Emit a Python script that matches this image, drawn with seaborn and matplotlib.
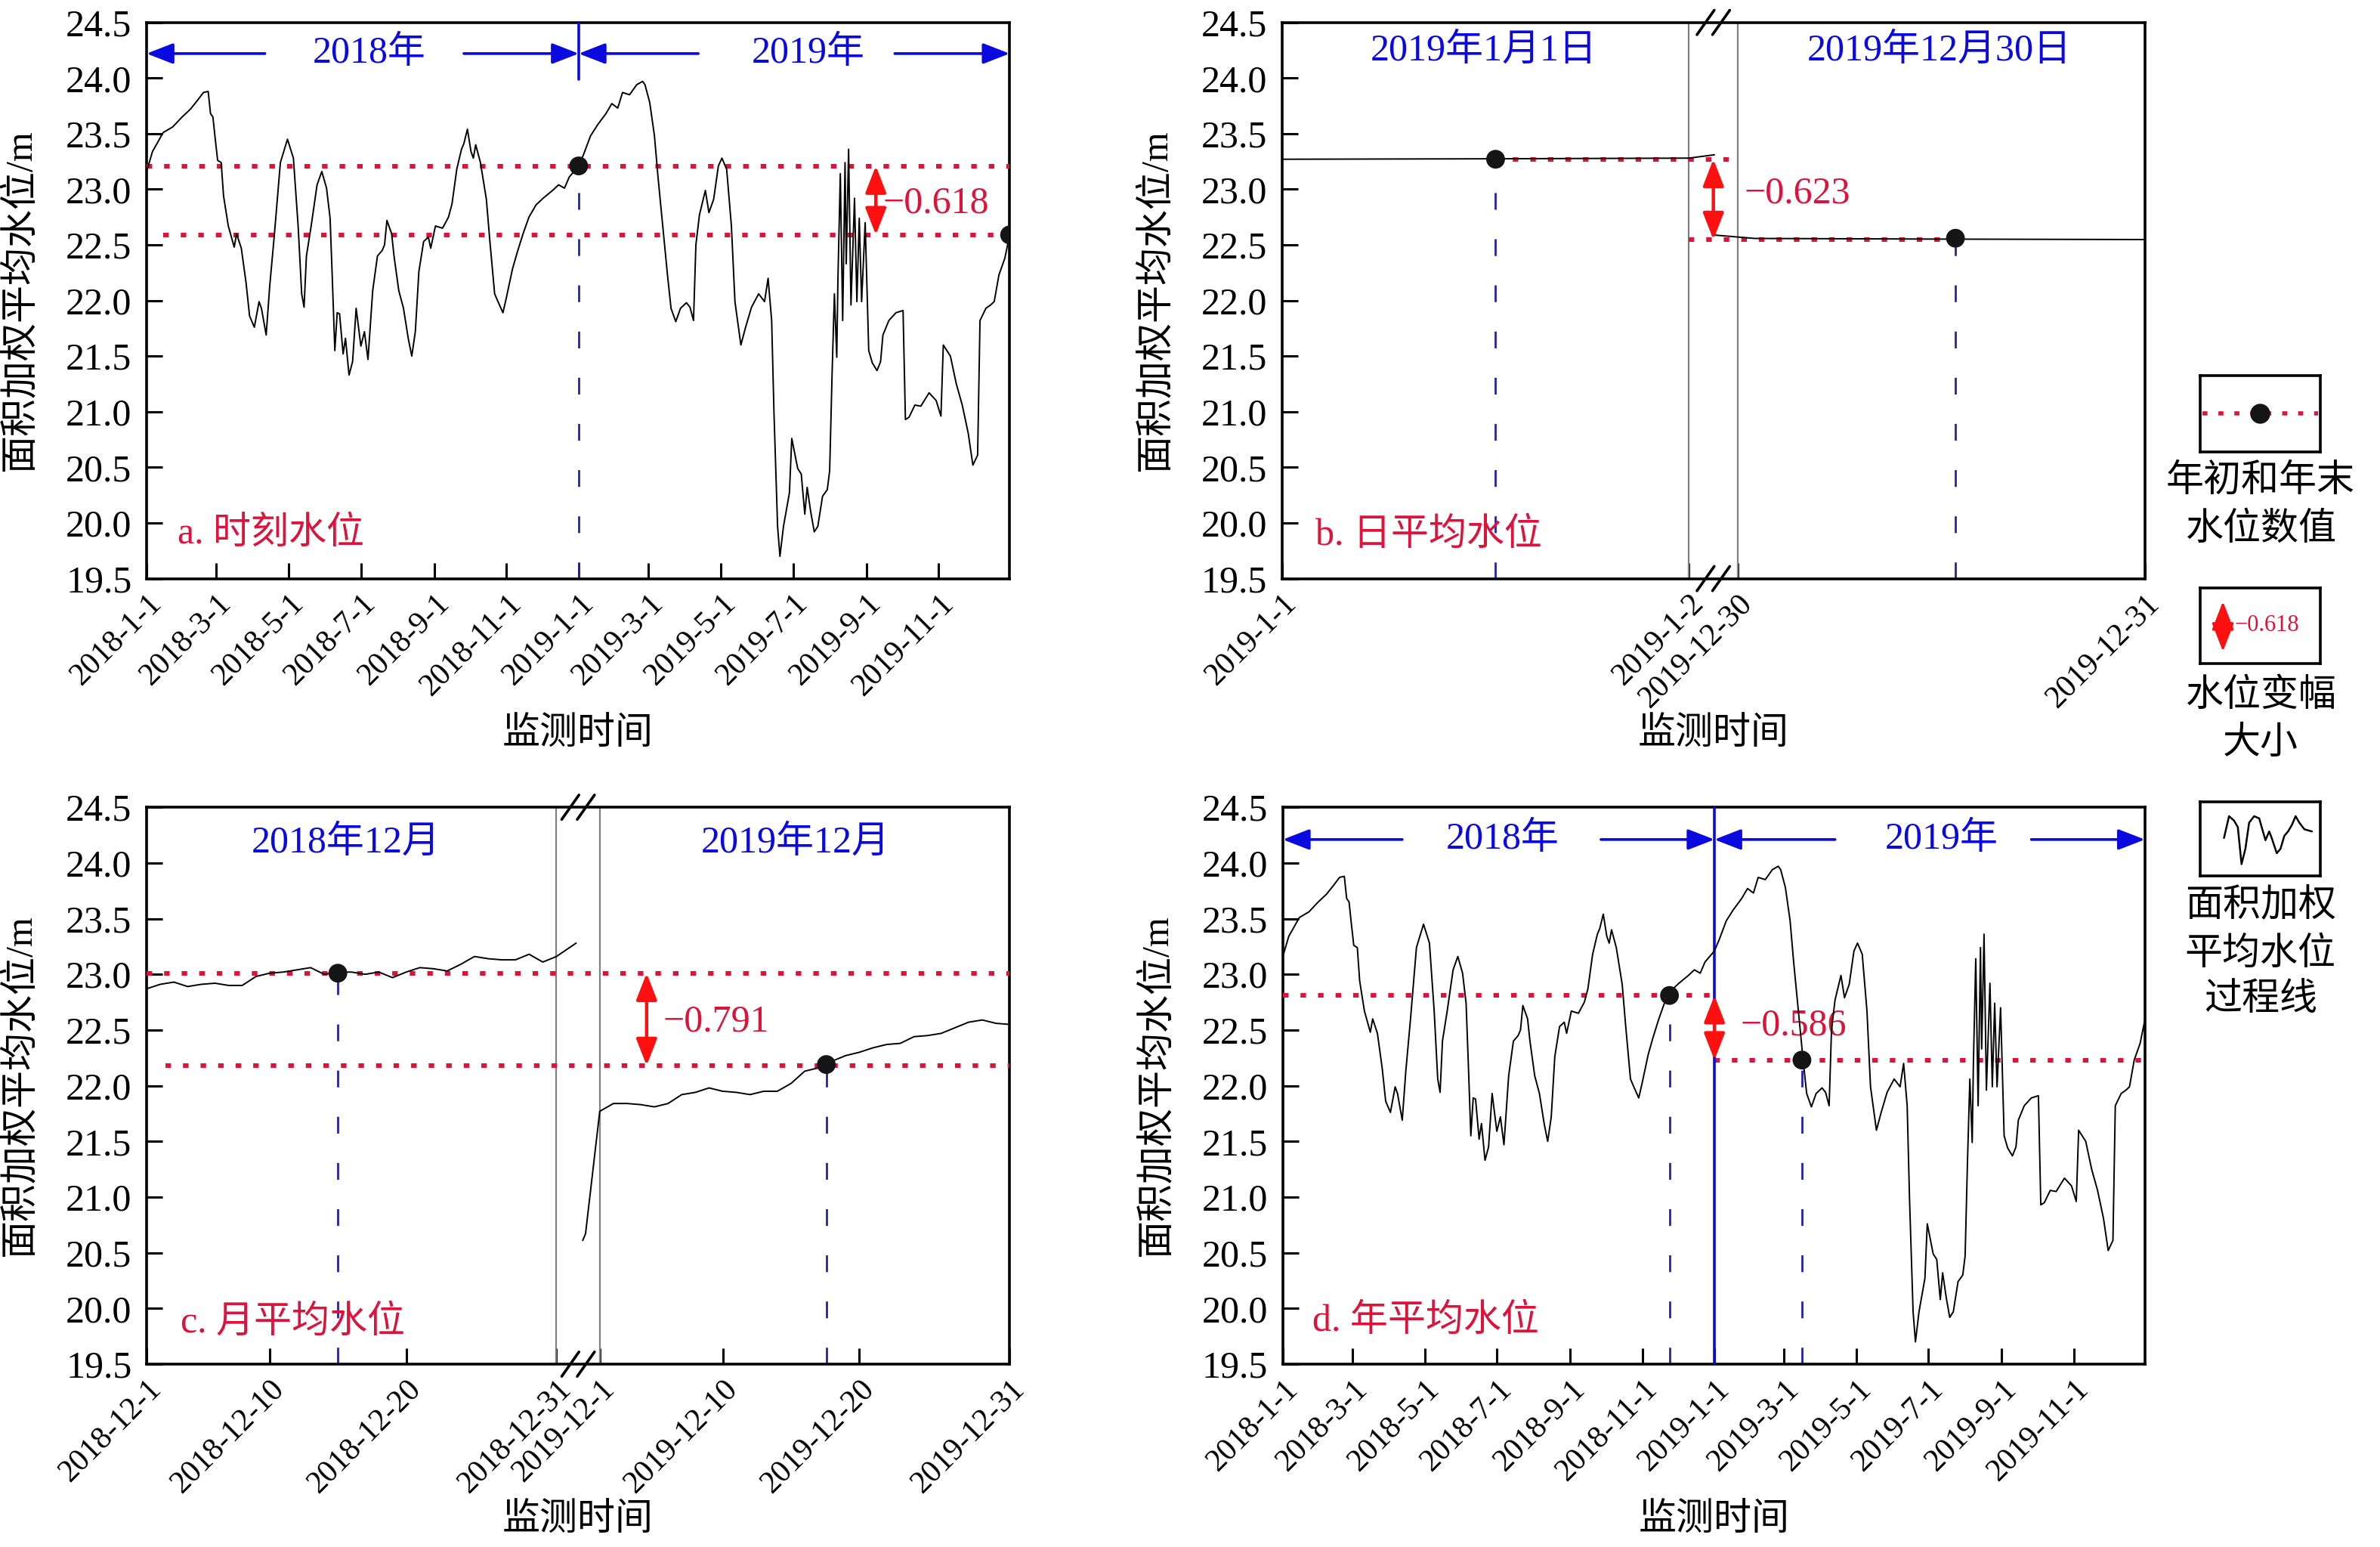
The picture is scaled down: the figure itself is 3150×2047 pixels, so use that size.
import numpy as np
import pandas as pd
import seaborn as sns
import matplotlib.pyplot as plt

sns.set_theme(style='ticks')
plt.rcParams['font.family'] = ['Liberation Serif', 'Noto Sans CJK SC']
plt.rcParams['axes.unicode_minus'] = True

RED = '#DC143C'
ARROW_RED = '#FF1010'
BLUE = '#0A0AE0'
DASH_BLUE = '#2424A8'
GRAY = '#808080'

base = pd.Timestamp('2018-01-01')

# area weighted mean water level, x = days since 2018-1-1
days_2018 = [0, 5, 14, 22, 30, 37, 43, 48, 52, 54,
             56, 58, 60, 63, 65, 69, 74, 76, 80, 84,
             87, 91, 95, 97, 101, 104, 108, 113, 119, 124,
             128, 131, 133, 135, 139, 144, 148, 152, 155, 157,
             159, 161, 163, 166, 168, 171, 174, 177, 181, 184,
             187, 191, 195, 199, 201, 203, 207, 209, 213, 217,
             221, 224, 227, 230, 234, 238, 240, 244, 250, 255,
             258, 262, 266, 268, 271, 274, 276, 278, 282, 287,
             290, 294, 296, 301, 304, 309, 313, 318, 323, 329,
             335, 343, 348, 353, 357, 365]
level_2018 = [23.16, 23.34, 23.51, 23.56, 23.65, 23.72, 23.80, 23.87, 23.88, 23.68,
              23.65, 23.45, 23.26, 23.24, 22.94, 22.67, 22.48, 22.60, 22.47, 22.16,
              21.86, 21.76, 21.99, 21.93, 21.69, 22.13, 22.60, 23.24, 23.45, 23.28,
              22.67, 22.06, 21.94, 22.40, 22.67, 23.04, 23.16, 23.01, 22.74, 22.16,
              21.55, 21.89, 21.88, 21.52, 21.66, 21.33, 21.45, 21.93, 21.59, 21.72,
              21.47, 22.09, 22.40, 22.45, 22.50, 22.72, 22.60, 22.40, 22.09, 21.93,
              21.66, 21.50, 21.72, 22.26, 22.53, 22.57, 22.47, 22.67, 22.65, 22.75,
              22.87, 23.18, 23.36, 23.41, 23.54, 23.34, 23.28, 23.40, 23.24, 22.91,
              22.53, 22.06, 22.01, 21.89, 22.03, 22.28, 22.43, 22.60, 22.75, 22.86,
              22.92, 22.99, 23.04, 23.01, 23.11, 23.21]
days_2019 = [369, 375, 381, 388, 393, 398, 402, 408, 414, 419,
             421, 425, 429, 432, 436, 440, 443, 447, 451, 456,
             459, 462, 464, 467, 472, 475, 479, 483, 486, 490,
             494, 497, 502, 506, 511, 517, 522, 525, 528, 530,
             533, 535, 538, 543, 545, 550, 553, 556, 558, 561,
             564, 567, 571, 575, 577, 579, 581, 583, 584, 586,
             588, 590, 591, 593, 595, 598, 600, 602, 604, 607,
             610, 613, 617, 620, 622, 627, 633, 639, 641, 644,
             649, 654, 661, 667, 671, 673, 679, 684, 689, 694,
             698, 702, 704, 709, 713, 716, 720, 725, 729]
level_2019 = [23.31, 23.48, 23.58, 23.68, 23.77, 23.73, 23.87, 23.85, 23.94, 23.97,
              23.94, 23.78, 23.48, 23.11, 22.67, 22.23, 21.93, 21.81, 21.93, 21.98,
              21.94, 21.82, 22.50, 22.77, 22.99, 22.79, 22.91, 23.21, 23.28, 23.18,
              22.67, 21.99, 21.60, 21.76, 21.94, 22.06, 21.99, 22.20, 21.82, 20.98,
              19.97, 19.70, 19.97, 20.27, 20.76, 20.49, 20.44, 20.08, 20.32, 20.10,
              19.92, 19.97, 20.24, 20.30, 20.47, 21.32, 22.06, 21.49, 22.20, 23.14,
              21.82, 23.24, 22.33, 23.36, 21.96, 22.92, 21.99, 22.74, 21.99, 22.70,
              21.55, 21.44, 21.37, 21.45, 21.69, 21.82, 21.89, 21.91, 20.93, 20.95,
              21.06, 21.05, 21.17, 21.10, 20.96, 21.60, 21.50, 21.25, 21.06, 20.81,
              20.52, 20.61, 21.82, 21.93, 21.96, 21.99, 22.23, 22.38, 22.59]

# panel b: daily mean, 2019-1-1 and 2019-12-30
b_early_time = ['2019-01-01 00:00', '2019-01-01 06:00', '2019-01-01 12:00',
                '2019-01-01 18:00', '2019-01-02 00:00', '2019-01-02 01:30']
b_early_level = [23.270, 23.272, 23.274, 23.277, 23.280, 23.310]
b_late_time = ['2019-12-29 22:30', '2019-12-30 01:00', '2019-12-30 12:00', '2019-12-31 00:00']
b_late_level = [22.590, 22.558, 22.552, 22.548]

# panel c: monthly mean, 2018-12 and 2019-12 (daily values)
c_early_time = list(pd.date_range('2018-12-01', periods=31, freq='D')) + [pd.Timestamp('2019-01-01 10:30')]
c_early_level = [22.87, 22.91, 22.93, 22.89, 22.91, 22.92, 22.90, 22.90, 22.98, 23.01,
                 23.02, 23.04, 23.06, 23.00, 23.02, 23.02, 23.00, 23.02, 22.97, 23.02,
                 23.06, 23.05, 23.03, 23.09, 23.16, 23.14, 23.13, 23.13, 23.18, 23.11,
                 23.16, 23.28]
c_late_time = [pd.Timestamp('2019-11-29 18:00'), pd.Timestamp('2019-11-29 23:00')] + \
    list(pd.date_range('2019-12-01', periods=31, freq='D'))
c_late_level = [20.61, 20.67,
                21.77, 21.84, 21.84, 21.83, 21.81, 21.84, 21.92, 21.94, 21.98, 21.95,
                21.94, 21.92, 21.95, 21.95, 22.02, 22.13, 22.16, 22.22, 22.27, 22.30,
                22.34, 22.37, 22.38, 22.44, 22.45, 22.47, 22.52, 22.57, 22.59, 22.56,
                22.55]

# begin / end values and change labels
a_mark_day = [365, 729]
a_mark_level = [23.21, 22.59]
b_mark_time = ['2019-01-01 12:36', '2019-12-30 12:50']
b_mark_level = [23.27, 22.56]
c_mark_time = ['2018-12-15 00:00', '2019-12-17 14:00']
c_mark_level = [23.01, 22.19]
d_mark_day = [327, 439]
d_mark_level = [22.81, 22.23]
b_lines = [23.27, 22.547]
c_lines = [23.01, 22.18]
change_text = ['\u22120.618', '\u22120.623', '\u22120.791', '\u22120.586']

# legend wiggle (box coords)
wiggle_x = [0.199, 0.241, 0.282, 0.314, 0.345, 0.377, 0.408, 0.450, 0.492, 0.523, 0.544,
            0.575, 0.596, 0.638, 0.669, 0.701, 0.732, 0.764, 0.795, 0.826, 0.868, 0.931]
wiggle_y = [0.512, 0.806, 0.747, 0.659, 0.159, 0.365, 0.718, 0.806, 0.776, 0.600, 0.482,
            0.600, 0.512, 0.306, 0.365, 0.541, 0.600, 0.688, 0.806, 0.718, 0.629, 0.600]

B_GAP = 1.12      # right segment offset in panel b (days)
C_GAP = 33.17     # right segment offset in panel c (days)


def seg_pos(times, start, offset=0.0):
    t = pd.to_datetime(pd.Series(times))
    return list(offset + (t - pd.Timestamp(start)) / pd.Timedelta(days=1))


def style_axis(ax):
    ax.set_ylim(19.5, 24.5)
    yt = np.arange(19.5, 24.51, 0.5)
    ax.set_yticks(yt)
    ax.set_yticklabels([f'{v:.1f}' for v in yt])
    ax.tick_params(direction='in', length=7.4, width=1.1, top=False, right=False,
                   colors='black')
    ax.tick_params(axis='y', labelsize=18, pad=7)
    ax.tick_params(axis='x', labelsize=15, pad=5)
    for s in ax.spines.values():
        s.set_linewidth(1.3)
        s.set_color('black')
        s.set_visible(True)
    ax.set_ylabel('面积加权平均水位/m', fontsize=18, color='black')
    ax.yaxis.set_label_coords(-0.125, 0.5)
    ax.set_xlabel('监测时间', fontsize=18, color='black')
    ax.xaxis.set_label_coords(0.5, -0.25)


def set_dates(ax, pos, labels):
    ax.set_xticks(pos)
    ax.set_xticklabels(labels, rotation=45, ha='right', va='top', rotation_mode='anchor')


def red_dotted(ax, y, x0, x1):
    ax.plot([x0, x1], [y, y], color=RED, lw=2.2, ls=(0, (1.2, 2.6)), zorder=3)


def drop_line(ax, x, y):
    ax.plot([x, x], [19.5, y], color=DASH_BLUE, lw=1.0, ls=(0, (8, 14)), zorder=2)


def marks(ax, xs, ys):
    sns.scatterplot(x=xs, y=ys, ax=ax, color='#151515', s=80, edgecolor='none', zorder=6)


def change_arrow(ax, x, y_top, y_bot, scale=12, lw=1.6):
    ax.annotate('', xy=(x, y_bot), xytext=(x, y_top),
                arrowprops=dict(arrowstyle='<|-|>,head_length=0.9,head_width=0.35',
                                color=ARROW_RED, lw=lw, mutation_scale=scale,
                                shrinkA=0, shrinkB=0), zorder=7)


def year_arrow(ax, x_from, x_to, y):
    ax.annotate('', xy=(x_to, y), xytext=(x_from, y),
                arrowprops=dict(arrowstyle='-|>,head_length=0.9,head_width=0.35',
                                color=BLUE, lw=1.3, mutation_scale=12,
                                shrinkA=0, shrinkB=0), zorder=7)


def break_marks(ax, xc=0.5):
    for y in (0, 1):
        for dx in (-0.009, 0.009):
            ax.plot([xc + dx - 0.01, xc + dx + 0.01], [y - 0.022, y + 0.022],
                    transform=ax.transAxes, color='black', lw=1.3,
                    clip_on=False, zorder=8)


fig = plt.figure(figsize=(15.75, 10.235), dpi=200)
fig.patch.set_facecolor('white')
ax_a = fig.add_axes([0.0616, 0.6260, 0.3626, 0.3595])
ax_b = fig.add_axes([0.5386, 0.6260, 0.3626, 0.3595])
ax_c = fig.add_axes([0.0616, 0.1182, 0.3626, 0.3600])
ax_d = fig.add_axes([0.5390, 0.1182, 0.3622, 0.3600])

all_days = days_2018 + days_2019
all_level = level_2018 + level_2019
month_ticks = pd.date_range('2018-01-01', '2019-12-01', freq='2MS')
month_pos = [(m - base).days for m in month_ticks]
month_lab = [f'{m.year}-{m.month}-{m.day}' for m in month_ticks]

# ---- a. instantaneous level
ax = ax_a
sns.lineplot(x=all_days, y=all_level, ax=ax, color='black', linewidth=0.7,
             estimator=None, sort=False, zorder=4)
style_axis(ax)
ax.set_xlim(0, 729)
set_dates(ax, month_pos, month_lab)
red_dotted(ax, a_mark_level[0], 0, 729)
red_dotted(ax, a_mark_level[1], 14, 729)
for x, y in zip(a_mark_day, a_mark_level):
    drop_line(ax, x, y)
ax.plot([365, 365], [23.99, 24.5], color=BLUE, lw=1.3, zorder=3)
marks(ax, a_mark_day, a_mark_level)
change_arrow(ax, 616, a_mark_level[0], a_mark_level[1])
ax.text(622, 22.87, change_text[0], color=RED, fontsize=18, ha='left', va='center')
for x0, x1 in [(100, 0), (268, 365), (466, 365), (632, 729)]:
    year_arrow(ax, x0, x1, 24.22)
ax.text(188, 24.22, '2018年', color=BLUE, fontsize=18, ha='center', va='center')
ax.text(559, 24.22, '2019年', color=BLUE, fontsize=18, ha='center', va='center')
ax.text(26, 19.9, 'a. 时刻水位', color=RED, fontsize=18, ha='left', va='center')

# ---- b. daily mean
ax = ax_b
b_early_pos = seg_pos(b_early_time, '2019-01-01')
b_late_pos = seg_pos(b_late_time, '2019-12-30', B_GAP)
sns.lineplot(x=b_early_pos, y=b_early_level, ax=ax, color='black', linewidth=0.7,
             estimator=None, sort=False, zorder=4)
sns.lineplot(x=b_late_pos, y=b_late_level, ax=ax, color='black', linewidth=0.7,
             estimator=None, sort=False, zorder=4)
style_axis(ax)
ax.set_xlim(0, 1 + B_GAP)
b_tick_pos = seg_pos(['2019-01-01', '2019-01-02'], '2019-01-01') + \
    seg_pos(['2019-12-30', '2019-12-31'], '2019-12-30', B_GAP)
set_dates(ax, b_tick_pos, ['2019-1-1', '2019-1-2', '2019-12-30', '2019-12-31'])
ax.axvline(1.0, color=GRAY, lw=0.8, zorder=1)
ax.axvline(B_GAP, color=GRAY, lw=0.8, zorder=1)
b_mark_pos = seg_pos(b_mark_time[:1], '2019-01-01') + seg_pos(b_mark_time[1:], '2019-12-30', B_GAP)
red_dotted(ax, b_lines[0], b_mark_pos[0], B_GAP)
red_dotted(ax, b_lines[1], 1.0, b_mark_pos[1])
for x, y in zip(b_mark_pos, b_mark_level):
    drop_line(ax, x, y)
marks(ax, b_mark_pos, b_mark_level)
change_arrow(ax, 1.06, b_lines[0], b_lines[1])
ax.text(1.135, 22.96, change_text[1], color=RED, fontsize=18, ha='left', va='center')
ax.text(0.496, 24.24, '2019年1月1日', color=BLUE, fontsize=18, ha='center', va='center')
ax.text(B_GAP + 0.496, 24.24, '2019年12月30日', color=BLUE, fontsize=18, ha='center', va='center')
ax.text(0.082, 19.89, 'b. 日平均水位', color=RED, fontsize=18, ha='left', va='center')
break_marks(ax, (1.0 + B_GAP) / 2 / (1 + B_GAP))

# ---- c. monthly mean
ax = ax_c
c_early_pos = seg_pos(c_early_time, '2018-12-01')
c_late_pos = seg_pos(c_late_time, '2019-12-01', C_GAP)
sns.lineplot(x=c_early_pos, y=c_early_level, ax=ax, color='black', linewidth=0.7,
             estimator=None, sort=False, zorder=4)
sns.lineplot(x=c_late_pos, y=c_late_level, ax=ax, color='black', linewidth=0.7,
             estimator=None, sort=False, zorder=4)
style_axis(ax)
ax.set_xlim(0, 30 + C_GAP)
c_left_ticks = ['2018-12-01', '2018-12-10', '2018-12-20', '2018-12-31']
c_right_ticks = ['2019-12-01', '2019-12-10', '2019-12-20', '2019-12-31']
c_tick_pos = seg_pos(c_left_ticks, '2018-12-01') + seg_pos(c_right_ticks, '2019-12-01', C_GAP)
c_tick_lab = [f'{d.year}-{d.month}-{d.day}' for d in pd.to_datetime(c_left_ticks + c_right_ticks)]
set_dates(ax, c_tick_pos, c_tick_lab)
ax.axvline(30, color=GRAY, lw=0.8, zorder=1)
ax.axvline(C_GAP, color=GRAY, lw=0.8, zorder=1)
c_mark_pos = seg_pos(c_mark_time[:1], '2018-12-01') + seg_pos(c_mark_time[1:], '2019-12-01', C_GAP)
red_dotted(ax, c_lines[0], 0, 30 + C_GAP)
red_dotted(ax, c_lines[1], 1.36, 30 + C_GAP)
for x, y in zip(c_mark_pos, c_mark_level):
    drop_line(ax, x, y)
marks(ax, c_mark_pos, c_mark_level)
change_arrow(ax, 36.6, c_lines[0], c_lines[1])
ax.text(37.8, 22.57, change_text[2], color=RED, fontsize=18, ha='left', va='center')
ax.text(14.6, 24.18, '2018年12月', color=BLUE, fontsize=18, ha='center', va='center')
ax.text(C_GAP + 14.3, 24.18, '2019年12月', color=BLUE, fontsize=18, ha='center', va='center')
ax.text(2.5, 19.87, 'c. 月平均水位', color=RED, fontsize=18, ha='left', va='center')
break_marks(ax, (30 + C_GAP) / 2 / (30 + C_GAP))

# ---- d. annual mean
ax = ax_d
sns.lineplot(x=all_days, y=all_level, ax=ax, color='black', linewidth=0.7,
             estimator=None, sort=False, zorder=4)
style_axis(ax)
ax.set_xlim(0, 729)
set_dates(ax, month_pos, month_lab)
red_dotted(ax, d_mark_level[0], 0, 365)
red_dotted(ax, d_mark_level[1], 365, 729)
for x, y in zip(d_mark_day, d_mark_level):
    drop_line(ax, x, y)
ax.axvline(365, color=BLUE, lw=1.3, zorder=3)
marks(ax, d_mark_day, d_mark_level)
change_arrow(ax, 365, d_mark_level[0], d_mark_level[1])
ax.text(387, 22.54, change_text[3], color=RED, fontsize=18, ha='left', va='center')
for x0, x1 in [(101, 0), (269, 365), (467, 365), (633, 729)]:
    year_arrow(ax, x0, x1, 24.21)
ax.text(186, 24.21, '2018年', color=BLUE, fontsize=18, ha='center', va='center')
ax.text(557, 24.21, '2019年', color=BLUE, fontsize=18, ha='center', va='center')
ax.text(25, 19.88, 'd. 年平均水位', color=RED, fontsize=18, ha='left', va='center')

# ---- legend column
def legend_box(rect):
    lax = fig.add_axes(rect)
    lax.set_xlim(0, 1)
    lax.set_ylim(0, 1)
    lax.set_xticks([])
    lax.set_yticks([])
    for s in lax.spines.values():
        s.set_linewidth(1.3)
        s.set_color('black')
        s.set_visible(True)
    return lax

lx = legend_box([0.9244, 0.7079, 0.0505, 0.0493])
lx.plot([0.02, 0.98], [0.5, 0.5], color=RED, lw=2.0, ls=(0, (1.2, 2.6)))
lx.plot([0.5], [0.5], 'o', color='#151515', ms=8.5)

lx = legend_box([0.9244, 0.5711, 0.0505, 0.0489])
change_arrow(lx, 0.19, 0.82, 0.16, scale=13, lw=1.2)
lx.text(0.29, 0.5, change_text[0], color=RED, fontsize=11, ha='left', va='center')

lx = legend_box([0.9244, 0.4338, 0.0505, 0.0479])
sns.lineplot(x=wiggle_x, y=wiggle_y, ax=lx, color='black', linewidth=0.9,
             estimator=None, sort=False)
lx.set_xlabel('')
lx.set_ylabel('')

for y, s in [(0.6883, '年初和年末'), (0.6575, '水位数值'),
             (0.5496, '水位变幅'), (0.5188, '大小'),
             (0.4138, '面积加权'), (0.3825, '平均水位'), (0.3532, '过程线')]:
    fig.text(0.9498, y, s, fontsize=18, ha='center', va='center', color='black')

fig.savefig('out.png', dpi=200, facecolor='white')
